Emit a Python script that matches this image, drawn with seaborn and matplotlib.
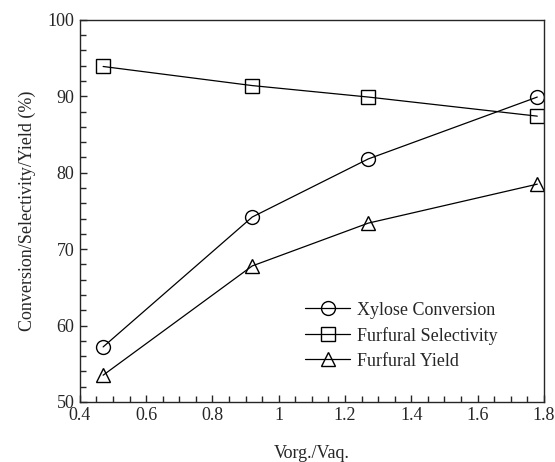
import matplotlib
matplotlib.use("Agg")
import matplotlib.pyplot as plt
import seaborn as sns
import pandas as pd
from matplotlib.ticker import MultipleLocator

ratio = [0.47, 0.92, 1.27, 1.78]
conversion = [57.2, 74.2, 81.8, 89.9]
selectivity = [93.9, 91.4, 89.9, 87.4]
yield_ = [53.5, 67.8, 73.4, 78.5]
series = ["Xylose Conversion", "Furfural Selectivity", "Furfural Yield"]

df = pd.DataFrame({
    "x": ratio * 3,
    "y": conversion + selectivity + yield_,
    "series": [series[0]] * 4 + [series[1]] * 4 + [series[2]] * 4,
})

sns.set_style("ticks")
plt.rcParams["font.family"] = ["Liberation Serif", "DejaVu Serif"]
plt.rcParams["xtick.direction"] = "in"
plt.rcParams["ytick.direction"] = "in"

fig = plt.figure(figsize=(5.55, 4.62), dpi=100)
ax = fig.add_axes([0.144, 0.130, 0.836, 0.827])

sns.lineplot(data=df, x="x", y="y", hue="series", style="series",
             palette=["black"] * 3,
             markers={series[0]: "o", series[1]: "s", series[2]: "^"},
             dashes=False, markersize=10, markerfacecolor="none",
             markeredgecolor="black", markeredgewidth=1.0, linewidth=0.9,
             ax=ax)

ax.set_xlim(0.4, 1.8)
ax.set_ylim(50, 100)
ax.set_xticks([0.4, 0.6, 0.8, 1.0, 1.2, 1.4, 1.6, 1.8])
ax.set_xticklabels(["0.4", "0.6", "0.8", "1", "1.2", "1.4", "1.6", "1.8"])
ax.xaxis.set_minor_locator(MultipleLocator(0.05))
ax.yaxis.set_major_locator(MultipleLocator(10))
ax.yaxis.set_minor_locator(MultipleLocator(2))
ax.tick_params(which="major", length=5, width=1, labelsize=13, pad=4,
               top=False, right=False)
ax.tick_params(which="minor", length=4, width=1, top=False, right=False,
               bottom=True, left=True)
for s in ax.spines.values():
    s.set_linewidth(1.0)
    s.set_visible(True)

ax.set_xlabel("Vorg./Vaq.", fontsize=13, labelpad=15)
ax.set_ylabel("Conversion/Selectivity/Yield (%)", fontsize=13, labelpad=8)

leg = ax.legend(loc="upper left", bbox_to_anchor=(0.45, 0.305), frameon=False,
                fontsize=13, handlelength=2.5, labelspacing=0.45, handletextpad=0.4)
for h in leg.legend_handles:
    h.set_markerfacecolor("none")
    h.set_markeredgecolor("black")

fig.savefig("out.png", dpi=100)
